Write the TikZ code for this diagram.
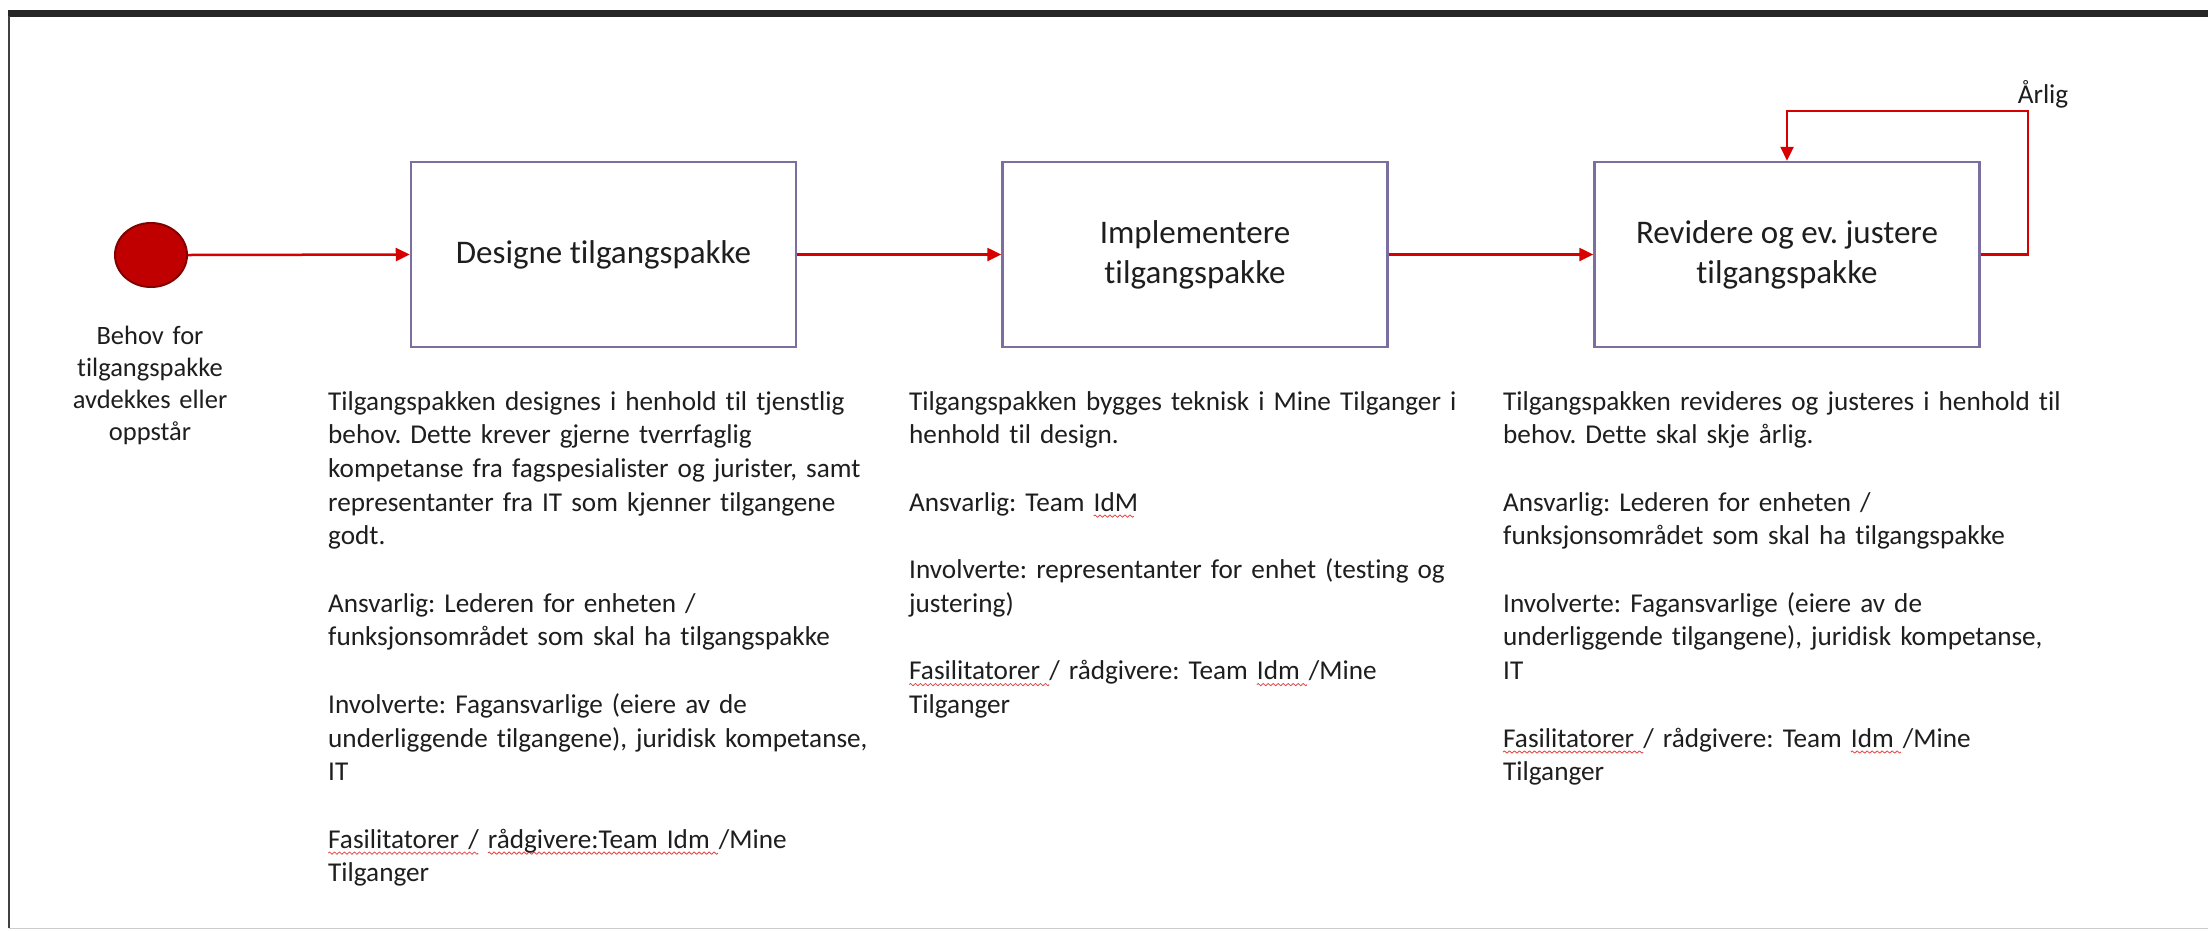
\documentclass[tikz,border=0pt]{standalone}
\usepackage{fontspec}
\setmainfont{Carlito}[Ligatures=NoCommon]
\usetikzlibrary{arrows.meta,shapes.geometric}
\definecolor{flowred}{RGB}{214,0,0}
\definecolor{boxedge}{RGB}{125,110,160}
\definecolor{startfill}{RGB}{192,0,0}
\definecolor{startedge}{RGB}{130,0,0}
\definecolor{txt}{RGB}{30,30,30}
\definecolor{spellred}{RGB}{230,70,70}
\definecolor{band}{RGB}{38,38,38}
\newsavebox{\wavebox}
\newcommand{\spell}[1]{\leavevmode\setbox0\hbox{#1}\rlap{\raisebox{-5pt}{\leaders\copy\wavebox\hskip\wd0}}\box0\relax}
\newcommand{\gap}{\\[33.7pt]}
\frenchspacing
\tikzset{
  flow/.style={draw=flowred, line width=2.5pt, -{Triangle[length=14pt,width=13pt]}},
  stepbox/.style={draw=boxedge, line width=2.5pt, rectangle, minimum width=385pt, minimum height=185pt,
    inner sep=0pt, align=center, text=txt, font=\fontsize{33}{40}\selectfont\frenchspacing},
  startdot/.style={ellipse, fill=startfill, draw=startedge, line width=2pt, minimum width=72pt, minimum height=64pt, inner sep=0pt},
  bodytxt/.style={text width=680pt, align=left, inner sep=0pt, text=txt, font=\fontsize{27.2}{33.7}\selectfont\frenchspacing, anchor=base west},
  lbltxt/.style={text width=220pt, align=center, inner sep=0pt, text=txt, font=\fontsize{26.5}{32}\selectfont\frenchspacing, anchor=base},
}
\begin{document}
\sbox{\wavebox}{\pgfpicture
  \pgfsetlinewidth{0.8pt}\pgfsetstrokecolor{spellred}\pgfsetroundjoin
  \pgfpathmoveto{\pgfpoint{0pt}{0pt}}
  \pgfpathlineto{\pgfpoint{1.25pt}{1.2pt}}
  \pgfpathlineto{\pgfpoint{2.5pt}{0pt}}
  \pgfpathlineto{\pgfpoint{3.75pt}{-1.2pt}}
  \pgfpathlineto{\pgfpoint{5pt}{0pt}}
  \pgfusepath{stroke}
  \pgfresetboundingbox
  \pgfpathrectangle{\pgfpoint{0pt}{0pt}}{\pgfpoint{5pt}{0pt}}
  \pgfusepath{use as bounding box}
\endpgfpicture}%
\begin{tikzpicture}[x=1pt,y=-1pt]
\useasboundingbox (0,0) rectangle (2208,930);
\fill[white] (0,0) rectangle (2208,930);
% screenshot frame
\fill[band] (8,10) rectangle (2208,16.5);
\draw[gray!40, line width=1pt] (9,928) -- (2208,928);
\draw[black!75, line width=1.8pt] (9,16) -- (9,928);

% nodes
\node[startdot] (start) at (151,255) {};
\node[lbltxt] (lbl) at (150,344) {Behov for\\tilgangspakke\\avdekkes eller\\oppstår};

\node[stepbox] (b1) at (603.5,254.5) {Designe tilgangspakke};
\node[stepbox] (b2) at (1195,254.5) {Implementere\\tilgangspakke};
\node[stepbox] (b3) at (1787,254.5) {Revidere og ev. justere\\tilgangspakke};

\coordinate (loop) at (2028,111);
\node[text=txt, font=\fontsize{27.2}{30}\selectfont, inner sep=0pt, anchor=base] (arlig) at (2043,103) {Årlig};

% connectors
\draw[flow] (start.east) -- (b1.west);
\draw[flow] (b1.east) -- (b2.west);
\draw[flow] (b2.east) -- (b3.west);
\draw[flow] (b3.east) -| (loop) -| (b3.north);

% descriptions
\node[bodytxt] (t1) at (328,410) {Tilgangspakken designes i henhold til tjenstlig\\
behov. Dette krever gjerne tverrfaglig\\
kompetanse fra fagspesialister og jurister, samt\\
representanter fra IT som kjenner tilgangene\\
godt.\gap
Ansvarlig: Lederen for enheten /\\
funksjonsområdet som skal ha tilgangspakke\gap
Involverte: Fagansvarlige (eiere av de\\
underliggende tilgangene), juridisk kompetanse,\\
IT\gap
\spell{Fasilitatorer~/} \spell{rådgivere:Team Idm~}/Mine\\
Tilganger};

\node[bodytxt] (t2) at (909,410) {Tilgangspakken bygges teknisk i Mine Tilganger i\\
henhold til design.\gap
Ansvarlig: Team \spell{IdM}\gap
Involverte: representanter for enhet (testing og\\
justering)\gap
\spell{Fasilitatorer~}/ rådgivere: Team \spell{Idm~}/Mine\\
Tilganger};

\node[bodytxt] (t3) at (1503,410) {Tilgangspakken revideres og justeres i henhold til\\
behov. Dette skal skje årlig.\gap
Ansvarlig: Lederen for enheten /\\
funksjonsområdet som skal ha tilgangspakke\gap
Involverte: Fagansvarlige (eiere av de\\
underliggende tilgangene), juridisk kompetanse,\\
IT\gap
\spell{Fasilitatorer~}/ rådgivere: Team \spell{Idm~}/Mine\\
Tilganger};
\end{tikzpicture}
\end{document}
